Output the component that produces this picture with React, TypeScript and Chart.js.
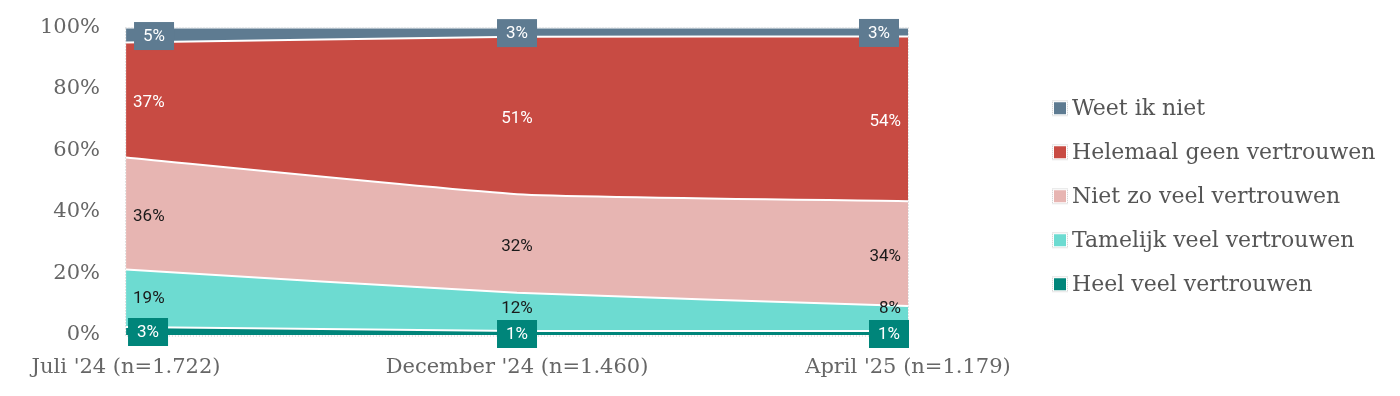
import React, { useEffect, useRef } from "react";
import { Chart, registerables } from "chart.js";

Chart.register(...registerables);

const categories = ["Juli '24 (n=1.722)", "December '24 (n=1.460)", "April '25 (n=1.179)"];
const seriesNames = [
  "Heel veel vertrouwen",
  "Tamelijk veel vertrouwen",
  "Niet zo veel vertrouwen",
  "Helemaal geen vertrouwen",
  "Weet ik niet",
];
const heelVeel = [2.6, 1.3, 1.3];
const tamelijkVeel = [18.7, 12.4, 8.1];
const nietZoVeel = [36.4, 32.1, 34.1];
const helemaalGeen = [37.4, 51.2, 53.6];
const weetIkNiet = [4.9, 3.0, 2.9];
const seriesValues = [heelVeel, tamelijkVeel, nietZoVeel, helemaalGeen, weetIkNiet];
const seriesColors = ["#00857a", "#6ddbd1", "#e7b5b2", "#c84b43", "#5e7b91"];
const labelColors = ["#ffffff", "#1a1a1a", "#1a1a1a", "#ffffff", "#ffffff"];
const yTicks = [0, 20, 40, 60, 80, 100];

const AXIS_FONT = "'DejaVu Serif', serif";
const LABEL_FONT = "Roboto, 'Noto Sans', sans-serif";

const borderPlugin = {
  id: "dottedBorder",
  beforeDatasetsDraw(chart: any) {
    const { ctx, chartArea: a } = chart;
    ctx.save();
    ctx.strokeStyle = "#c8c8c8";
    ctx.lineWidth = 1;
    ctx.setLineDash([1, 2]);
    ctx.strokeRect(Math.round(a.left) - 0.5, Math.round(a.top) - 0.5, a.right - a.left + 1, a.bottom - a.top + 1);
    ctx.restore();
  },
};

const legendPlugin = {
  id: "sideLegend",
  afterDraw(chart: any) {
    const { ctx, chartArea: a } = chart;
    const n = chart.data.datasets.length;
    const spacing = 44;
    const midY = (a.top + a.bottom) / 2 + 15;
    const x0 = a.right + 146;
    ctx.save();
    ctx.font = `22px ${AXIS_FONT}`;
    ctx.textBaseline = "middle";
    ctx.textAlign = "left";
    for (let k = 0; k < n; k++) {
      const d = n - 1 - k;
      const cy = midY + (k - (n - 1) / 2) * spacing;
      ctx.setLineDash([1, 1]);
      ctx.strokeStyle = "#c8c8c8";
      ctx.lineWidth = 1;
      ctx.strokeRect(x0 - 1.5, cy - 7.5, 15, 15);
      ctx.setLineDash([]);
      ctx.fillStyle = seriesColors[d];
      ctx.fillRect(x0, cy - 6, 12, 12);
      ctx.fillStyle = "#555555";
      ctx.fillText(chart.data.datasets[d].label, x0 + 18, cy + 1);
    }
    ctx.restore();
  },
};

const labelPlugin = {
  id: "segLabels",
  afterDatasetsDraw(chart: any) {
    const ctx = chart.ctx;
    const yScale = chart.scales.y;
    const n = chart.data.datasets.length;
    ctx.save();
    ctx.font = `17px ${LABEL_FONT}`;
    ctx.textBaseline = "middle";
    const heelBoxTops: number[] = [];
    for (let d = 0; d < n; d++) {
      const meta = chart.getDatasetMeta(d);
      const prev = d > 0 ? chart.getDatasetMeta(d - 1) : null;
      meta.data.forEach((pt: any, i: number) => {
        const top = pt.y;
        const bottom = prev ? prev.data[i].y : yScale.getPixelForValue(0);
        let cy = (top + bottom) / 2;
        const val = chart.data.datasets[d].data[i] as number;
        const text = Math.round(val) + "%";
        const tw = ctx.measureText(text).width;
        const first = i === 0;
        const last = i === meta.data.length - 1;
        const boxed = d === 0 || d === n - 1;
        if (boxed) {
          const bw = tw + 18;
          const bh = 28;
          let bx: number;
          if (d === 0) {
            bx = first ? pt.x + 2 : last ? pt.x + 1 - bw : pt.x - bw / 2;
          } else {
            bx = first ? pt.x + 8 : last ? pt.x - 9 - bw : pt.x - bw / 2;
          }
          const by = cy - bh / 2 + 1;
          if (d === 0) heelBoxTops[i] = by;
          ctx.fillStyle = seriesColors[d];
          ctx.fillRect(bx, by, bw, bh);
          ctx.fillStyle = labelColors[d];
          ctx.textAlign = "center";
          ctx.fillText(text, bx + bw / 2, by + bh / 2 + 1);
        } else {
          if (d === 1 && heelBoxTops[i] !== undefined) {
            cy = Math.min(cy, heelBoxTops[i] - 11);
          } else {
            cy += 3;
          }
          ctx.fillStyle = labelColors[d];
          if (first) {
            ctx.textAlign = "left";
            ctx.fillText(text, pt.x + 7, cy);
          } else if (last) {
            ctx.textAlign = "right";
            ctx.fillText(text, pt.x - 7, cy);
          } else {
            ctx.textAlign = "center";
            ctx.fillText(text, pt.x, cy);
          }
        }
      });
    }
    ctx.restore();
  },
};

export default function App() {
  const canvasRef = useRef<HTMLCanvasElement | null>(null);

  useEffect(() => {
    if (!canvasRef.current) return;
    const chart = new Chart(canvasRef.current, {
      type: "line",
      data: {
        labels: categories,
        datasets: seriesNames.map((name, d) => ({
          label: name,
          data: seriesValues[d],
          backgroundColor: seriesColors[d],
          borderColor: "#ffffff",
          borderWidth: 2,
          pointRadius: 0,
          pointHoverRadius: 0,
          tension: 0.15,
          fill: d === 0 ? "origin" : "-1",
        })),
      },
      options: {
        animation: false,
        responsive: true,
        maintainAspectRatio: false,
        layout: { padding: { top: 19.5, bottom: 8, left: 32, right: 484 } },
        interaction: { mode: "index", intersect: false },
        scales: {
          x: {
            type: "category",
            offset: false,
            grid: { display: false },
            border: { display: false },
            afterFit: (s: any) => {
              s.height = 45;
            },
            ticks: {
              font: { family: AXIS_FONT, size: 21 },
              color: "#666666",
              padding: 12,
              maxRotation: 0,
              autoSkip: false,
            },
          },
          y: {
            stacked: true,
            min: 0,
            max: 100,
            grid: { display: false, tickLength: 26 },
            border: { display: false },
            afterBuildTicks: (s: any) => {
              s.ticks = yTicks.map((v) => ({ value: v }));
            },
            ticks: {
              font: { family: AXIS_FONT, size: 21 },
              color: "#666666",
              padding: 0,
              callback: (v: any) => v + "%",
            },
          },
        },
        plugins: {
          tooltip: { enabled: false },
          legend: { display: false },
        },
      },
      plugins: [borderPlugin, labelPlugin, legendPlugin],
    } as any);
    return () => chart.destroy();
  }, []);

  return (
    <div style={{ position: "relative", width: "100%", height: "380px" }}>
      <canvas ref={canvasRef} />
    </div>
  );
}
